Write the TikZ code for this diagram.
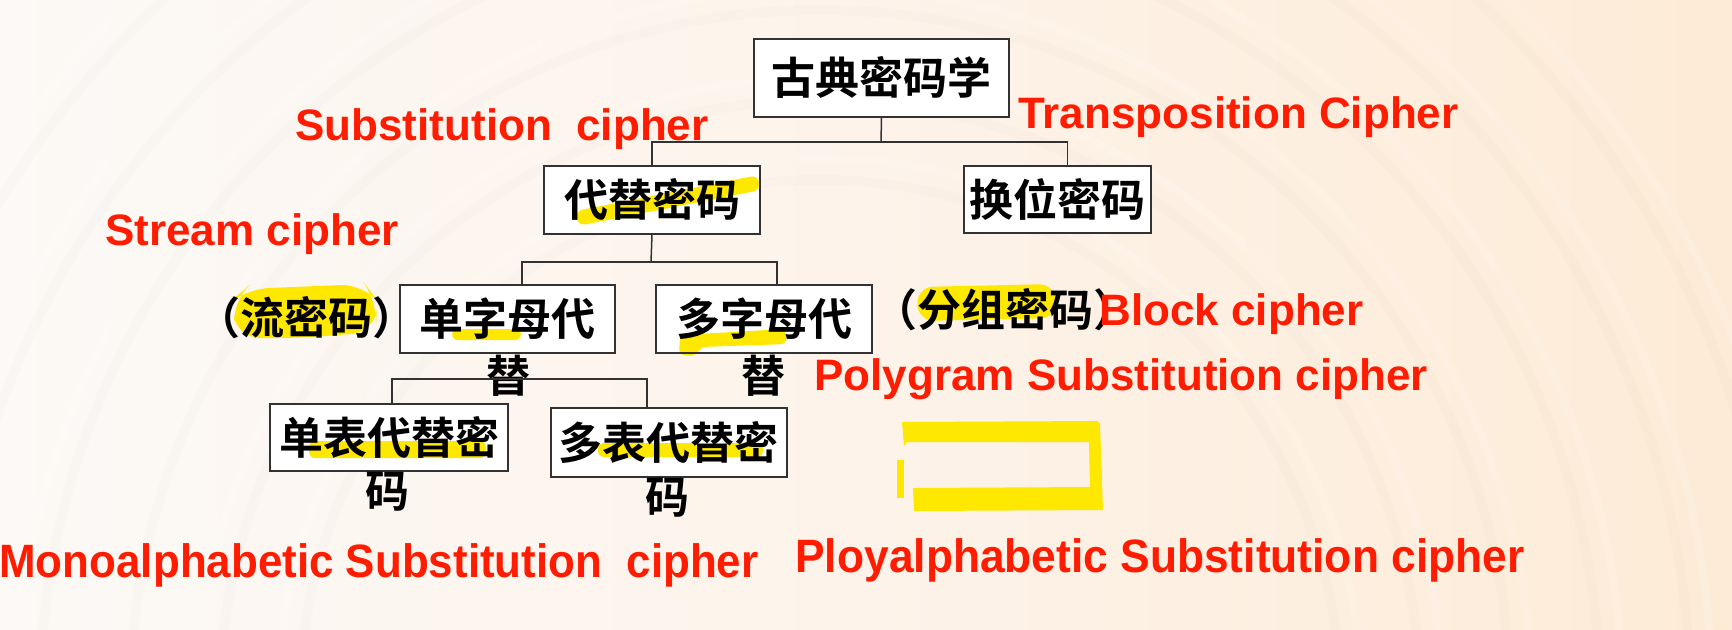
\documentclass[tikz,border=0pt]{standalone}
\usepackage{fontspec}
\usepackage{graphicx}
\setmainfont{Liberation Sans}
\newfontfamily\cjk{Noto Sans CJK SC Bold}
\definecolor{redtxt}{RGB}{255,28,0}
\definecolor{hly}{RGB}{255,232,0}
\definecolor{bgL}{RGB}{252,249,246}
\definecolor{bgM}{RGB}{253,243,234}
\definecolor{bgR}{RGB}{253,235,214}
\definecolor{lnc}{RGB}{50,50,50}
\pgfdeclarelayer{bg}
\pgfdeclarelayer{boxfill}
\pgfdeclarelayer{hl}
\pgfsetlayers{bg,boxfill,hl,main}
\tikzset{
  cjkt/.style={font=\cjk\fontsize{22}{26}\selectfont, text=black, inner sep=0pt},
  cbox/.style={cjkt, draw=lnc, line width=1pt},
  entxt/.style={font=\bfseries\fontsize{22}{26}\selectfont, text=redtxt, inner sep=0pt, anchor=base west},
  entxtb/.style={font=\bfseries\fontsize{23.4}{28}\selectfont, text=redtxt, inner sep=0pt, anchor=base west},
  conn/.style={draw=lnc, line width=0.75pt},
  hlf/.style={fill=hly, rounded corners=3pt}
}
\begin{document}
\begin{tikzpicture}[x=0.5pt,y=-0.5pt]
\useasboundingbox (0,0) rectangle (1732,629);
% boxes
\node[cbox, minimum width=127.5pt, minimum height=39pt] (top) at (881.5,77.5) {古典密码学};
\node[cbox, minimum width=108pt, minimum height=34pt] (sub) at (652,199.5) {代替密码};
\node[cbox, minimum width=93.5pt, minimum height=33.5pt] (trans) at (1057.5,199.5) {换位密码};
\node[cbox, minimum width=107.5pt, minimum height=34pt] (mono1) at (507.5,319) {单字母代};
\node[cbox, minimum width=108pt, minimum height=34pt] (poly1) at (764,319) {多字母代};
\node[cbox, minimum width=119pt, minimum height=33.5pt] (mono2) at (389,437.5) {单表代替密};
\node[cbox, minimum width=118pt, minimum height=34.5pt] (poly2) at (668.5,442.5) {多表代替密};
% overflow characters
\node[cjkt] (ti1) at (508,376) {替};
\node[cjkt] (ti2) at (763,376) {替};
\node[cjkt] (ma1) at (387,492) {码};
\node[cjkt] (ma2) at (667,498) {码};
\node[cjkt] (stream) at (306,318) {（流密码）};
\node[cjkt] (block) at (1005,310) {（分组密码）};
% connectors
\coordinate (f1) at (881,142);
\coordinate (f2) at (651,262);
\coordinate (f3) at (507.5,379);
\draw[conn] (top.south) -- (f1);
\draw[conn] (sub.north) |- (f1) -| ([xshift=5pt]trans.north);
\draw[conn] (sub.south) -- (f2);
\draw[conn] ([xshift=7.25pt]mono1.north) |- (f2) -| ([xshift=6.5pt]poly1.north);
\draw[conn] ([xshift=1.5pt]mono2.north) |- (f3) -| ([xshift=-10.75pt]poly2.north);
% red labels
\node[entxt] (l1) at (295,140) {Substitution~~cipher};
\node[entxt] (l2) at (1018,128) {Transposition Cipher};
\node[entxt] (l3) at (105,245) {Stream cipher};
\node[entxt] (l4) at (1099,325) {Block cipher};
\node[entxt] (l5) at (814,390) {Polygram Substitution cipher};
\node[entxtb] (l6) at (-1,577) {\resizebox{379.5pt}{\height}{Monoalphabetic Substitution~~cipher}};
\node[entxtb] (l7) at (795,572) {\resizebox{364.5pt}{\height}{Ployalphabetic Substitution cipher}};
% white fills of boxes
\begin{pgfonlayer}{boxfill}
\foreach \n in {top,sub,trans,mono1,poly1,mono2,poly2}
  \fill[white] (\n.south west) rectangle (\n.north east);
\end{pgfonlayer}
% highlights
\begin{pgfonlayer}{hl}
\draw[hly, line width=7.5pt, line cap=round] (584,217) -- (752,184);
\fill[hlf, rounded corners=12pt] (232,300) -- (245,289) -- (365,284) -- (377,300) -- (376,332) -- (300,338) -- (236,338) -- cycle;
\fill[hlf] (452,329) rectangle (521,340);
\fill[hlf] (680,335) -- (785,329) -- (787,344) -- (700,347) -- (696,356) -- (679,355) -- cycle;
\fill[hlf, rounded corners=8pt] (917,287) -- (1055,284) -- (1057,318) -- (918,321) -- cycle;
\fill[hlf] (309,441) rectangle (486,458);
\fill[hlf] (598,443) rectangle (763,457);
% bracket
\fill[hly] (902,422) -- (1097,421) -- (1100,424) -- (1103,510) -- (914,511) -- (913,488) -- (1090,487) -- (1089,442) -- (907,442) -- (904,446) -- cycle;
\fill[hly] (897,460) rectangle (904,498);
\end{pgfonlayer}
% background
\begin{pgfonlayer}{bg}
\shade[left color=bgL, right color=bgR, middle color=bgM] (0,0) rectangle (1732,629);
\begin{scope}
\clip (0,0) rectangle (1732,629);
\foreach \r in {520,600,690,780,870,960} {
  \draw[black, opacity=0.012, line width=5pt] (820,700) circle[radius=\r];
  \draw[white, opacity=0.15, line width=4pt] (820,700) circle[radius=\r+22];
}
\end{scope}
\end{pgfonlayer}
\end{tikzpicture}
\end{document}
